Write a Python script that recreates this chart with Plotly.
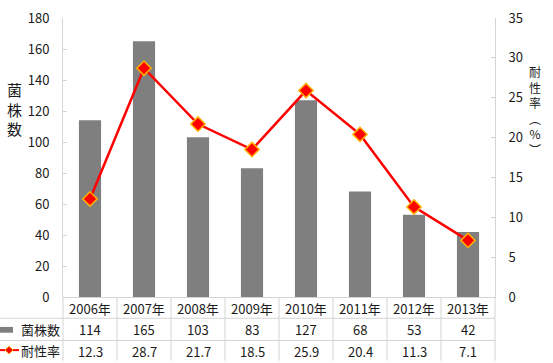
import plotly.graph_objects as go

years = ["2006年", "2007年", "2008年", "2009年", "2010年", "2011年", "2012年", "2013年"]
strains = [114, 165, 103, 83, 127, 68, 53, 42]
resistance = [12.3, 28.7, 21.7, 18.5, 25.9, 20.4, 11.3, 7.1]
row_labels = ["菌株数", "耐性率"]
left_title = "菌株数"
right_title = ["耐", "性", "率", "︵", "%", "︶"]
left_ticks = list(range(0, 181, 20))
right_ticks = list(range(0, 36, 5))

W, H = 553, 363
L, R, T, B = 63, 58, 8, 66
PW, PH = W - L - R, H - T - B
FONT = "Noto Sans CJK JP, Noto Sans, sans-serif"
GRID = "#d4d4d4"
TXT = "#1a1a1a"


def px_x(p):
    return (p - L) / PW


def px_y(p):
    return (H - B - p) / PH


fig = go.Figure()
fig.add_trace(go.Bar(
    x=years, y=strains, name=row_labels[0], width=0.41,
    marker=dict(color="#7f7f7f", line=dict(width=0)), yaxis="y",
))
fig.add_trace(go.Scatter(
    x=years, y=resistance, name=row_labels[1], yaxis="y2", mode="lines+markers",
    line=dict(color="#ff0000", width=2.5),
    marker=dict(symbol="diamond", size=11, color="#ff0000",
                line=dict(color="#ffb000", width=1.5)),
))

shapes = []
annotations = []

# table grid
for yl in [319, 342]:
    shapes.append(dict(type="line", xref="paper", yref="paper",
                       x0=px_x(0), x1=1, y0=px_y(yl), y1=px_y(yl),
                       line=dict(color=GRID, width=1)))
for k in range(len(years) + 1):
    xv = k / len(years)
    shapes.append(dict(type="line", xref="paper", yref="paper",
                       x0=xv, x1=xv, y0=0, y1=px_y(H),
                       line=dict(color=GRID, width=1)))

# table text
text_rows = [(309, years), (331, [str(v) for v in strains]), (353, [str(v) for v in resistance])]
for yc, vals in text_rows:
    for yr, v in zip(years, vals):
        annotations.append(dict(x=yr, xref="x", y=px_y(yc), yref="paper",
                                text=v, showarrow=False,
                                font=dict(family=FONT, size=13, color=TXT),
                                xanchor="center", yanchor="middle"))

# row labels with legend keys
for lbl, yc in zip(row_labels, [331, 352]):
    annotations.append(dict(x=px_x(40), xref="paper", y=px_y(yc), yref="paper",
                            text=lbl, showarrow=False,
                            font=dict(family=FONT, size=13, color=TXT),
                            xanchor="center", yanchor="middle"))
shapes.append(dict(type="rect", xref="paper", yref="paper",
                   x0=px_x(0), x1=px_x(13), y0=px_y(334), y1=px_y(328),
                   fillcolor="#7f7f7f", line=dict(width=0)))
shapes.append(dict(type="line", xref="paper", yref="paper",
                   x0=px_x(0), x1=px_x(19), y0=px_y(352), y1=px_y(352),
                   line=dict(color="#ff0000", width=2)))
cx, cy, s = 9, 352, 4
shapes.append(dict(type="path", xref="paper", yref="paper",
                   path=f"M {px_x(cx - s)} {px_y(cy)} L {px_x(cx)} {px_y(cy - s)} "
                        f"L {px_x(cx + s)} {px_y(cy)} L {px_x(cx)} {px_y(cy + s)} Z",
                   fillcolor="#ff0000", line=dict(color="#ffb000", width=1)))

# axis titles (vertical stacked)
annotations.append(dict(x=px_x(14), xref="paper", y=px_y(102), yref="paper",
                        text="<br>".join(left_title), showarrow=False,
                        font=dict(family=FONT, size=15, color=TXT),
                        xanchor="center", yanchor="middle"))
annotations.append(dict(x=px_x(535), xref="paper", y=px_y(104), yref="paper",
                        text="<br>".join(right_title), showarrow=False,
                        font=dict(family=FONT, size=12, color=TXT),
                        xanchor="center", yanchor="middle"))

axis_common = dict(showgrid=False, showline=True, linecolor=GRID, linewidth=1,
                   ticks="inside", ticklen=4, tickcolor=GRID, ticklabelstandoff=10,
                   ticklabeloverflow="allow", zeroline=False,
                   tickfont=dict(family=FONT, size=13, color=TXT))

fig.update_layout(
    width=W, height=H,
    margin=dict(l=L, r=R, t=T, b=B, pad=0),
    paper_bgcolor="white", plot_bgcolor="white",
    showlegend=False,
    font=dict(family=FONT, size=13, color=TXT),
    xaxis=dict(type="category", range=[-0.5, 7.5], showticklabels=False,
               showgrid=False, showline=True, linecolor=GRID, linewidth=1,
               ticks="", zeroline=False),
    yaxis=dict(range=[0, 180], tickvals=left_ticks, **axis_common),
    yaxis2=dict(range=[0, 35], tickvals=right_ticks, overlaying="y", side="right",
                **axis_common),
    shapes=shapes, annotations=annotations,
)

fig.write_html("out.html")
